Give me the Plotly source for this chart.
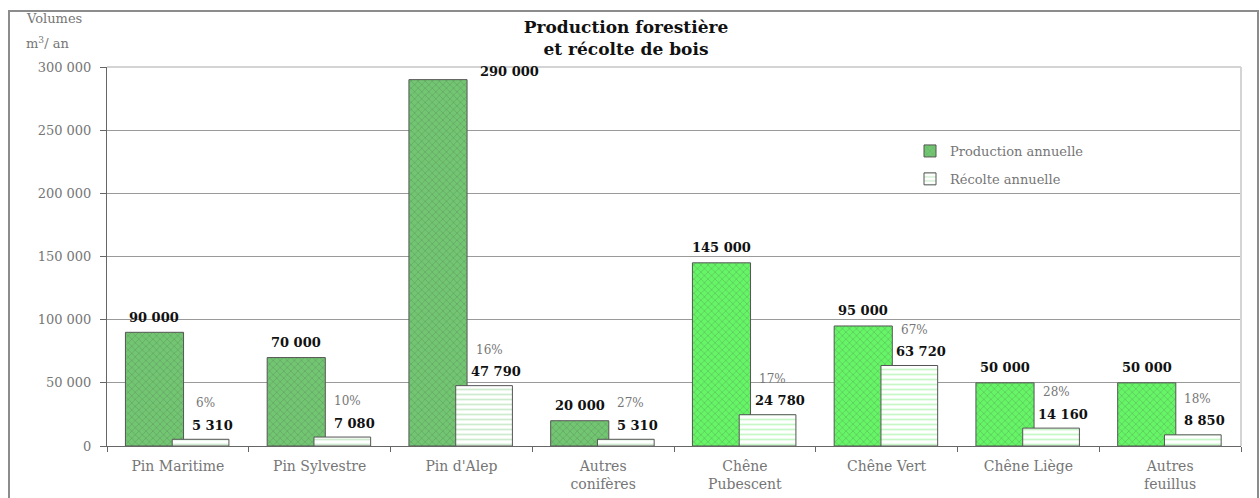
import plotly.graph_objects as go

# Forest production vs. annual harvest by species (m³ / year)
categories = ["Pin Maritime", "Pin Sylvestre", "Pin d'Alep", "Autres<br>conifères",
              "Chêne<br>Pubescent", "Chêne Vert", "Chêne Liège", "Autres<br>feuillus"]
species_group = ["conifère", "conifère", "conifère", "conifère",
                 "feuillu", "feuillu", "feuillu", "feuillu"]
production = [90000, 70000, 290000, 20000, 145000, 95000, 50000, 50000]
recolte = [5310, 7080, 47790, 5310, 24780, 63720, 14160, 8850]
taux_recolte = ["6%", "10%", "16%", "27%", "17%", "67%", "28%", "18%"]
y_ticks = [0, 50000, 100000, 150000, 200000, 250000, 300000]

W, H = 1260, 498
ML, MR, MT, MB = 107, 19, 67, 52
PW, PH = W - ML - MR, H - MT - MB

SERIF = "DejaVu Serif"
GREY_TXT = "#767676"

prod_fill = {"conifère": "#72c672", "feuillu": "#66f566"}
prod_dots = {"conifère": "#3f8f3f", "feuillu": "#33c033"}
rec_lines = {"conifère": "#9fd89f", "feuillu": "#8fee8f"}

PROD_OFF, PROD_W = -0.37, 0.41
REC_OFF, REC_W = -0.04, 0.40


def fmt(v):
    return f"{v:,}".replace(",", " ")


def px_x(px):
    return (px - ML) / PW


def px_y(py):
    return (H - MB - py) / PH


fig = go.Figure()

fig.add_trace(go.Bar(
    name="Production annuelle",
    x=categories, y=production,
    offset=PROD_OFF, width=PROD_W,
    marker=dict(
        color=[prod_fill[g] for g in species_group],
        line=dict(color="#555555", width=1),
        pattern=dict(shape="x", size=5, solidity=0.15,
                     fgcolor=[prod_dots[g] for g in species_group],
                     bgcolor=[prod_fill[g] for g in species_group]),
    ),
    legendgroup="p",
))

fig.add_trace(go.Bar(
    name="Récolte annuelle",
    x=categories, y=recolte,
    offset=REC_OFF, width=REC_W,
    marker=dict(
        color="white",
        line=dict(color="#555555", width=1),
        pattern=dict(shape="-", size=5, solidity=0.35,
                     fgcolor=[rec_lines[g] for g in species_group],
                     bgcolor="white"),
    ),
    legendgroup="r",
))

annotations = []
ymax = y_ticks[-1]
VAL_FONT = dict(family=SERIF, size=13, color="#111")
for i, (p, r, pct) in enumerate(zip(production, recolte, taux_recolte)):
    pc = i + PROD_OFF + PROD_W / 2
    if p > 0.9 * ymax:
        # too tall to label above: put the value beside the bar
        annotations.append(dict(x=i + PROD_OFF + PROD_W, y=p, text=f"<b>{fmt(p)}</b>",
                                xanchor="left", yanchor="middle", xshift=11, yshift=8,
                                showarrow=False, font=VAL_FONT))
    else:
        annotations.append(dict(x=pc, y=p, text=f"<b>{fmt(p)}</b>",
                                xanchor="center", yanchor="middle", yshift=15,
                                showarrow=False, font=VAL_FONT))
    rc = i + REC_OFF + REC_W / 2
    annotations.append(dict(x=rc, y=r, text=f"<b>{fmt(r)}</b>",
                            xanchor="center", yanchor="middle", xshift=12, yshift=14,
                            showarrow=False, font=VAL_FONT))
    annotations.append(dict(x=rc, y=r, text=pct,
                            xanchor="center", yanchor="middle", xshift=5, yshift=36,
                            showarrow=False, font=dict(family=SERIF, size=12, color=GREY_TXT)))

# axis caption
annotations.append(dict(xref="paper", yref="paper", x=px_x(24), y=px_y(18), text="Volumes",
                        xanchor="left", yanchor="middle", showarrow=False,
                        font=dict(family=SERIF, size=13, color=GREY_TXT)))
annotations.append(dict(xref="paper", yref="paper", x=px_x(24), y=px_y(43), text="m<sup>3</sup>/ an",
                        xanchor="left", yanchor="middle", showarrow=False,
                        font=dict(family=SERIF, size=13, color=GREY_TXT)))

shapes = [
    # outer frame
    dict(type="rect", xref="paper", yref="paper",
         x0=px_x(9), x1=px_x(1258), y0=px_y(520), y1=px_y(11),
         line=dict(color="#8c8c8c", width=2), layer="below"),
    # plot area top and right edges
    dict(type="line", xref="paper", yref="paper", x0=0, x1=1, y0=1, y1=1,
         line=dict(color="#d4d4d4", width=2)),
    dict(type="line", xref="paper", yref="paper", x0=1, x1=1, y0=0, y1=1,
         line=dict(color="#d4d4d4", width=2)),
]

fig.update_layout(
    width=W, height=H,
    margin=dict(l=ML, r=MR, t=MT, b=MB, autoexpand=False),
    paper_bgcolor="white", plot_bgcolor="white",
    barmode="overlay",
    separators=". ",
    title=dict(text="<b>Production forestière<br>et récolte de bois</b>",
               x=626 / W, xanchor="center", y=1 - 33 / H, yanchor="middle",
               yref="container",
               font=dict(family=SERIF, size=17, color="#111")),
    showlegend=True,
    legend=dict(x=px_x(910), y=px_y(136), xanchor="left", yanchor="top",
                bgcolor="rgba(255,255,255,0)", tracegroupgap=8,
                traceorder="grouped",
                font=dict(family=SERIF, size=13, color=GREY_TXT),
                itemwidth=30),
    annotations=annotations,
    shapes=shapes,
    xaxis=dict(
        type="category", showline=True, linecolor="#666666", linewidth=1,
        ticks="outside", tickson="boundaries", ticklen=5, tickcolor="#666666",
        tickfont=dict(family=SERIF, size=14, color=GREY_TXT),
        ticklabelstandoff=7, showgrid=False, automargin=False,
    ),
    yaxis=dict(
        range=[0, ymax], tickvals=y_ticks, tickformat=",d",
        showline=True, linecolor="#666666", linewidth=1,
        ticks="outside", ticklen=6, tickcolor="#666666",
        tickfont=dict(family=SERIF, size=13, color=GREY_TXT),
        ticklabelstandoff=6, automargin=False,
        showgrid=True, gridcolor="#9a9a9a", gridwidth=1, zeroline=False,
    ),
)

fig.write_html("out.html")
